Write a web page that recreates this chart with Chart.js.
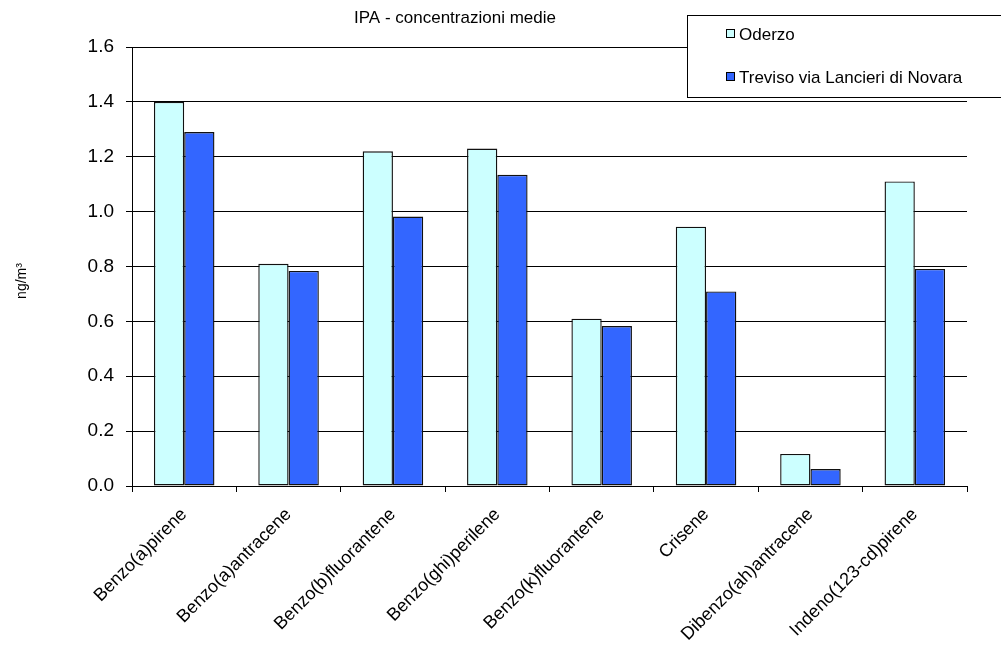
<!DOCTYPE html>
<html>
<head>
<meta charset="utf-8">
<script src="https://cdn.jsdelivr.net/npm/chart.js@4/dist/chart.umd.min.js"></script>
<style>
  html, body { margin: 0; padding: 0; background: #fff; }
  #wrap { width: 1001px; height: 650px; position: relative; }
</style>
</head>
<body>
<div id="wrap"><canvas id="ipaChart"></canvas></div>
<script>
  const categories = [
    "Benzo(a)pirene", "Benzo(a)antracene", "Benzo(b)fluorantene", "Benzo(ghi)perilene",
    "Benzo(k)fluorantene", "Crisene", "Dibenzo(ah)antracene", "Indeno(123-cd)pirene"
  ];
  const oderzo = [1.40, 0.81, 1.22, 1.23, 0.61, 0.945, 0.117, 1.11];
  const treviso = [1.29, 0.784, 0.982, 1.134, 0.583, 0.709, 0.062, 0.791];
  const seriesNames = ["Oderzo", "Treviso via Lancieri di Novara"];
  const yTicks = [0, 0.2, 0.4, 0.6, 0.8, 1.0, 1.2, 1.4, 1.6];

  const FONT = "'Liberation Sans', Arial, sans-serif";

  // title, unit label and boxed legend drawn straight onto the canvas
  const decorations = {
    id: "decorations",
    afterDraw(chart) {
      const ctx = chart.ctx;
      ctx.save();
      ctx.fillStyle = "#000";
      ctx.font = "17px " + FONT;
      ctx.textAlign = "center";
      ctx.textBaseline = "middle";
      ctx.fillText("IPA - concentrazioni medie", 455, 18);

      ctx.save();
      ctx.translate(22, 281);
      ctx.rotate(-Math.PI / 2);
      ctx.font = "14px " + FONT;
      ctx.fillText("ng/m³", 0, 0);
      ctx.restore();

      ctx.fillStyle = "#fff";
      ctx.fillRect(687.5, 15.5, 330, 82);
      ctx.strokeStyle = "#000";
      ctx.lineWidth = 1;
      ctx.strokeRect(687.5, 15.5, 330, 82);

      ctx.font = "17px " + FONT;
      ctx.textAlign = "left";
      chart.data.datasets.forEach((ds, i) => {
        const y = 34 + i * 43;
        ctx.fillStyle = ds.backgroundColor;
        ctx.fillRect(726.5, y - 4.5, 8, 8);
        ctx.strokeRect(726.5, y - 4.5, 8, 8);
        ctx.fillStyle = "#000";
        ctx.fillText(ds.label, 739, y + 1);
      });
      ctx.restore();
    }
  };

  new Chart(document.getElementById("ipaChart"), {
    type: "bar",
    data: {
      labels: categories,
      datasets: [
        { label: seriesNames[0], data: oderzo, backgroundColor: "#CCFFFF", borderColor: "#111", borderWidth: 1.4, borderSkipped: false },
        { label: seriesNames[1], data: treviso, backgroundColor: "#3366FF", borderColor: "#111", borderWidth: 1.4, borderSkipped: false }
      ]
    },
    options: {
      responsive: true,
      maintainAspectRatio: false,
      animation: false,
      categoryPercentage: 0.58,
      barPercentage: 1.0,
      layout: { padding: { top: 47, right: 34, left: 0, bottom: 0 } },
      plugins: {
        legend: { display: false },
        title: { display: false },
        tooltip: { enabled: false }
      },
      scales: {
        x: {
          offset: true,
          grid: { offset: true, drawOnChartArea: false, color: "#000", tickLength: 6, lineWidth: 1 },
          border: { color: "#000", width: 1 },
          ticks: {
            color: "#000",
            font: { family: FONT, size: 18 },
            maxRotation: 45,
            minRotation: 45,
            padding: 12
          },
          afterFit(scale) { scale.height = 164; }
        },
        y: {
          min: 0,
          max: 1.6,
          afterBuildTicks(scale) {
            scale.ticks = yTicks.map(v => ({ value: v }));
          },
          grid: { color: "#000", tickLength: 6, lineWidth: 1 },
          border: { color: "#000", width: 1 },
          ticks: {
            color: "#000",
            font: { family: FONT, size: 19 },
            padding: 12,
            callback: v => Number(v).toFixed(1)
          },
          afterFit(scale) { scale.width = 132; }
        }
      }
    },
    plugins: [decorations]
  });
</script>
</body>
</html>
